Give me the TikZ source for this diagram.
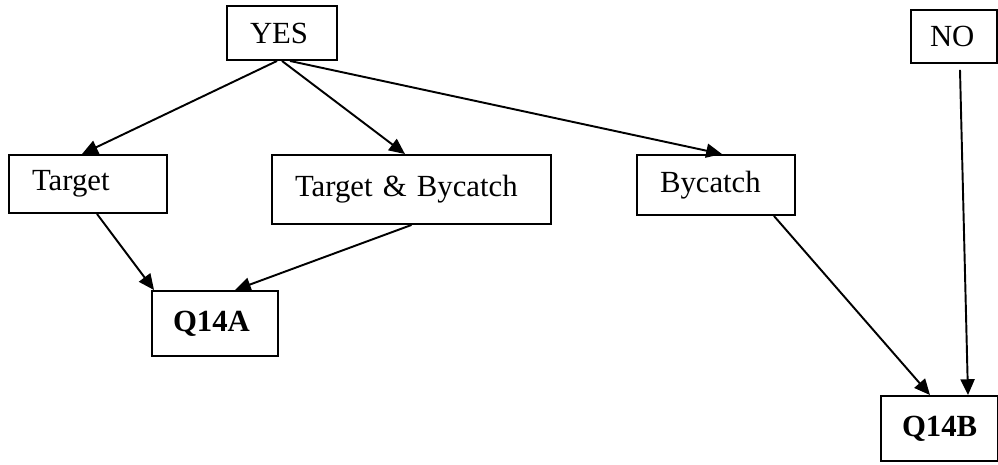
\documentclass[tikz,border=0pt]{standalone}
\usepackage{fontspec}
\setmainfont{Liberation Serif}
\usetikzlibrary{arrows.meta, calc}

\tikzset{
    qbox/.style={draw, line width=1.1pt, inner ysep=0pt, align=left},
    qarrow/.style={line width=1.1pt, -{Triangle[length=9pt,width=8pt]}}
}

\begin{document}
\begin{tikzpicture}[x=0.02cm, y=-0.02cm, font=\fontsize{17.5}{20}\selectfont]
        \useasboundingbox (0,0) rectangle (998,464);

        \node[qbox, inner xsep=0.46cm, text width=1.28cm, minimum height=1.08cm] (yes) at (282,33) {YES};
        \node[qbox, inner xsep=0.38cm, text width=0.96cm, minimum height=1.06cm] (no) at (954,36.5) {NO};

        \node[qbox, inner xsep=0.46cm, text width=2.24cm, minimum height=1.16cm] (target) at (88,184) {Target};
        \node[qbox, inner xsep=0.46cm, text width=4.66cm, minimum height=1.38cm] (both) at (411.5,189.5) {Target \& Bycatch};
        \node[qbox, inner xsep=0.46cm, text width=2.24cm, minimum height=1.2cm] (bycatch) at (716,185) {Bycatch};

        \node[qbox, inner xsep=0.42cm, text width=1.68cm, minimum height=1.3cm] (qa) at (215,323.5) {\textbf{Q14A}};
        \node[qbox, inner xsep=0.42cm, text width=1.5cm, minimum height=1.3cm] (qb) at (939.5,428.5) {\textbf{Q14B}};

        \draw[qarrow] ([xshift=-0.1cm]yes.south) -- ([xshift=-0.12cm]target.north);
        \draw[qarrow] (yes.south) -- ([xshift=-0.13cm]both.north);
        \draw[qarrow] ([xshift=0.16cm]yes.south) -- ([xshift=0.12cm]bycatch.north);

        \draw[qarrow] ([xshift=0.18cm]target.south) -- ([xshift=0.06cm]qa.north west);
        \draw[qarrow] (both.south) -- ([xshift=0.4cm]qa.north);

        \draw[qarrow] ([xshift=-0.44cm]bycatch.south east) -- ([xshift=-0.19cm]qb.north);
        \draw[qarrow] ([xshift=0.12cm,yshift=-0.12cm]no.south) -- ([xshift=0.57cm]qb.north);
    \end{tikzpicture}
\end{document}
